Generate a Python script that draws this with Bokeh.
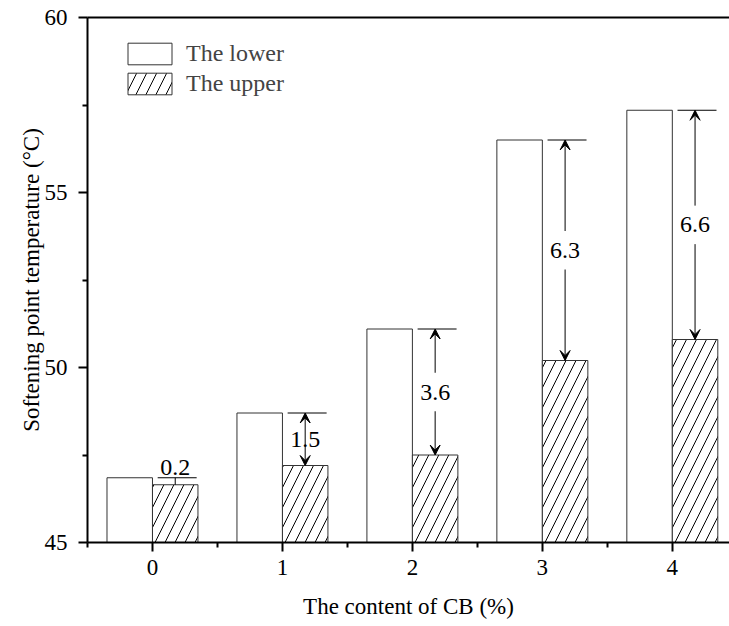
from bokeh.plotting import figure
from bokeh.models import (Range1d, FixedTicker, LinearAxis, Legend, LegendItem,
                          ColumnDataSource, Arrow, VeeHead)
from bokeh.core.properties import value
from bokeh.embed import file_html
from bokeh.resources import INLINE

categories = [0, 1, 2, 3, 4]
lower = [46.85, 48.7, 51.1, 56.5, 57.35]
upper = [46.65, 47.2, 47.5, 50.2, 50.8]
diff_labels = ["0.2", "1.5", "3.6", "6.3", "6.6"]
legend_labels = ["The lower", "The upper"]
x_title = "The content of CB (%)"
y_title = "Softening point temperature (\u00b0C)"

FONT = "Liberation Serif"
BW = 0.35

p = figure(width=729, height=626, output_backend="svg", toolbar_location=None,
           x_range=Range1d(-0.5, 4.44), y_range=Range1d(45, 60),
           min_border_left=87, min_border_right=0, min_border_top=17,
           min_border_bottom=84)
p.xgrid.visible = False
p.ygrid.visible = False
p.outline_line_color = None
p.background_fill_color = "white"
p.border_fill_color = "white"

xl = [c - BW / 2 for c in categories]
xu = [c + BW / 2 for c in categories]
src = ColumnDataSource(dict(xl=xl, xu=xu, lower=lower, upper=upper))

r_low = p.vbar(x="xl", top="lower", bottom=45, width=BW, source=src,
               fill_color="white", line_color="#333333", line_width=1)
r_up = p.vbar(x="xu", top="upper", bottom=45, width=BW, source=src,
              fill_color="white", line_color="#333333", line_width=1,
              hatch_pattern="/", hatch_color="black", hatch_weight=1,
              hatch_scale=20)

# horizontal reference lines at the lower-bar level over the upper bar
hx0 = [c + 0.04 for c in categories]
hx1 = [c + 0.34 for c in categories]
p.segment(x0=hx0, x1=hx1, y0=lower, y1=lower, line_color="black", line_width=1)

# annotation arrows and labels
lab_x, lab_y, lab_t = [], [], []
for c, lo, up, t in zip(categories, lower, upper, diff_labels):
    xc = c + BW / 2
    d = lo - up
    if d < 0.5:
        p.segment(x0=[xc], x1=[xc], y0=[up], y1=[lo], line_color="black", line_width=1)
        p.text(x=[xc], y=[lo], text=[t], text_font=value(FONT), text_font_size="24px",
               text_align="center", text_baseline="bottom", y_offset=-3)
        continue
    mid = (lo + up) / 2
    if d < 2:
        p.add_layout(Arrow(x_start=xc, y_start=up, x_end=xc, y_end=lo,
                           start=VeeHead(size=10, fill_color="black", line_color="black"),
                           end=VeeHead(size=10, fill_color="black", line_color="black"),
                           line_color="black", line_width=1))
    else:
        gap = 0.55
        p.add_layout(Arrow(x_start=xc, y_start=mid + gap, x_end=xc, y_end=lo,
                           end=VeeHead(size=10, fill_color="black", line_color="black"),
                           line_color="black", line_width=1))
        p.add_layout(Arrow(x_start=xc, y_start=mid - gap, x_end=xc, y_end=up,
                           end=VeeHead(size=10, fill_color="black", line_color="black"),
                           line_color="black", line_width=1))
    lab_x.append(xc)
    lab_y.append(mid)
    lab_t.append(t)

p.text(x=lab_x, y=lab_y, text=lab_t, text_font=value(FONT), text_font_size="24px",
       text_align="center", text_baseline="middle")

# axes
xa = p.xaxis[0]
xa.ticker = FixedTicker(ticks=categories, minor_ticks=[c - 0.5 for c in categories] + [4.5])
ya = p.yaxis[0]
ya.ticker = FixedTicker(ticks=[45, 50, 55, 60], minor_ticks=[47.5, 52.5, 57.5])
for ax in (xa, ya):
    ax.axis_line_width = 2
    ax.axis_line_color = "black"
    ax.major_tick_line_width = 2
    ax.minor_tick_line_width = 2
    ax.major_tick_in = 0
    ax.minor_tick_in = 0
    ax.major_tick_out = 9
    ax.minor_tick_out = 5
    ax.major_label_text_font = FONT
    ax.major_label_text_font_size = "23px"
    ax.major_label_text_color = "black"
    ax.axis_label_text_font = FONT
    ax.axis_label_text_font_size = "23px"
    ax.axis_label_text_font_style = "normal"
    ax.axis_label_text_color = "black"
xa.major_label_standoff = 8
ya.major_label_standoff = 11
xa.axis_label = x_title
ya.axis_label = y_title
xa.axis_label_standoff = 16
ya.axis_label_standoff = -2

top = LinearAxis(ticker=FixedTicker(ticks=[]), axis_line_width=2,
                 major_label_text_font_size="0px", major_tick_out=0, minor_tick_out=0,
                 major_tick_in=0, minor_tick_in=0)
p.add_layout(top, "above")

legend = Legend(items=[LegendItem(label=legend_labels[0], renderers=[r_low]),
                       LegendItem(label=legend_labels[1], renderers=[r_up])],
                location=(35, 445), padding=0, margin=0, border_line_color=None,
                background_fill_alpha=0, glyph_width=55, glyph_height=27,
                label_standoff=9, spacing=3, label_text_font=FONT,
                label_text_font_size="24px", label_height=27)
p.add_layout(legend)

open("out.html", "w").write(file_html(p, INLINE))
